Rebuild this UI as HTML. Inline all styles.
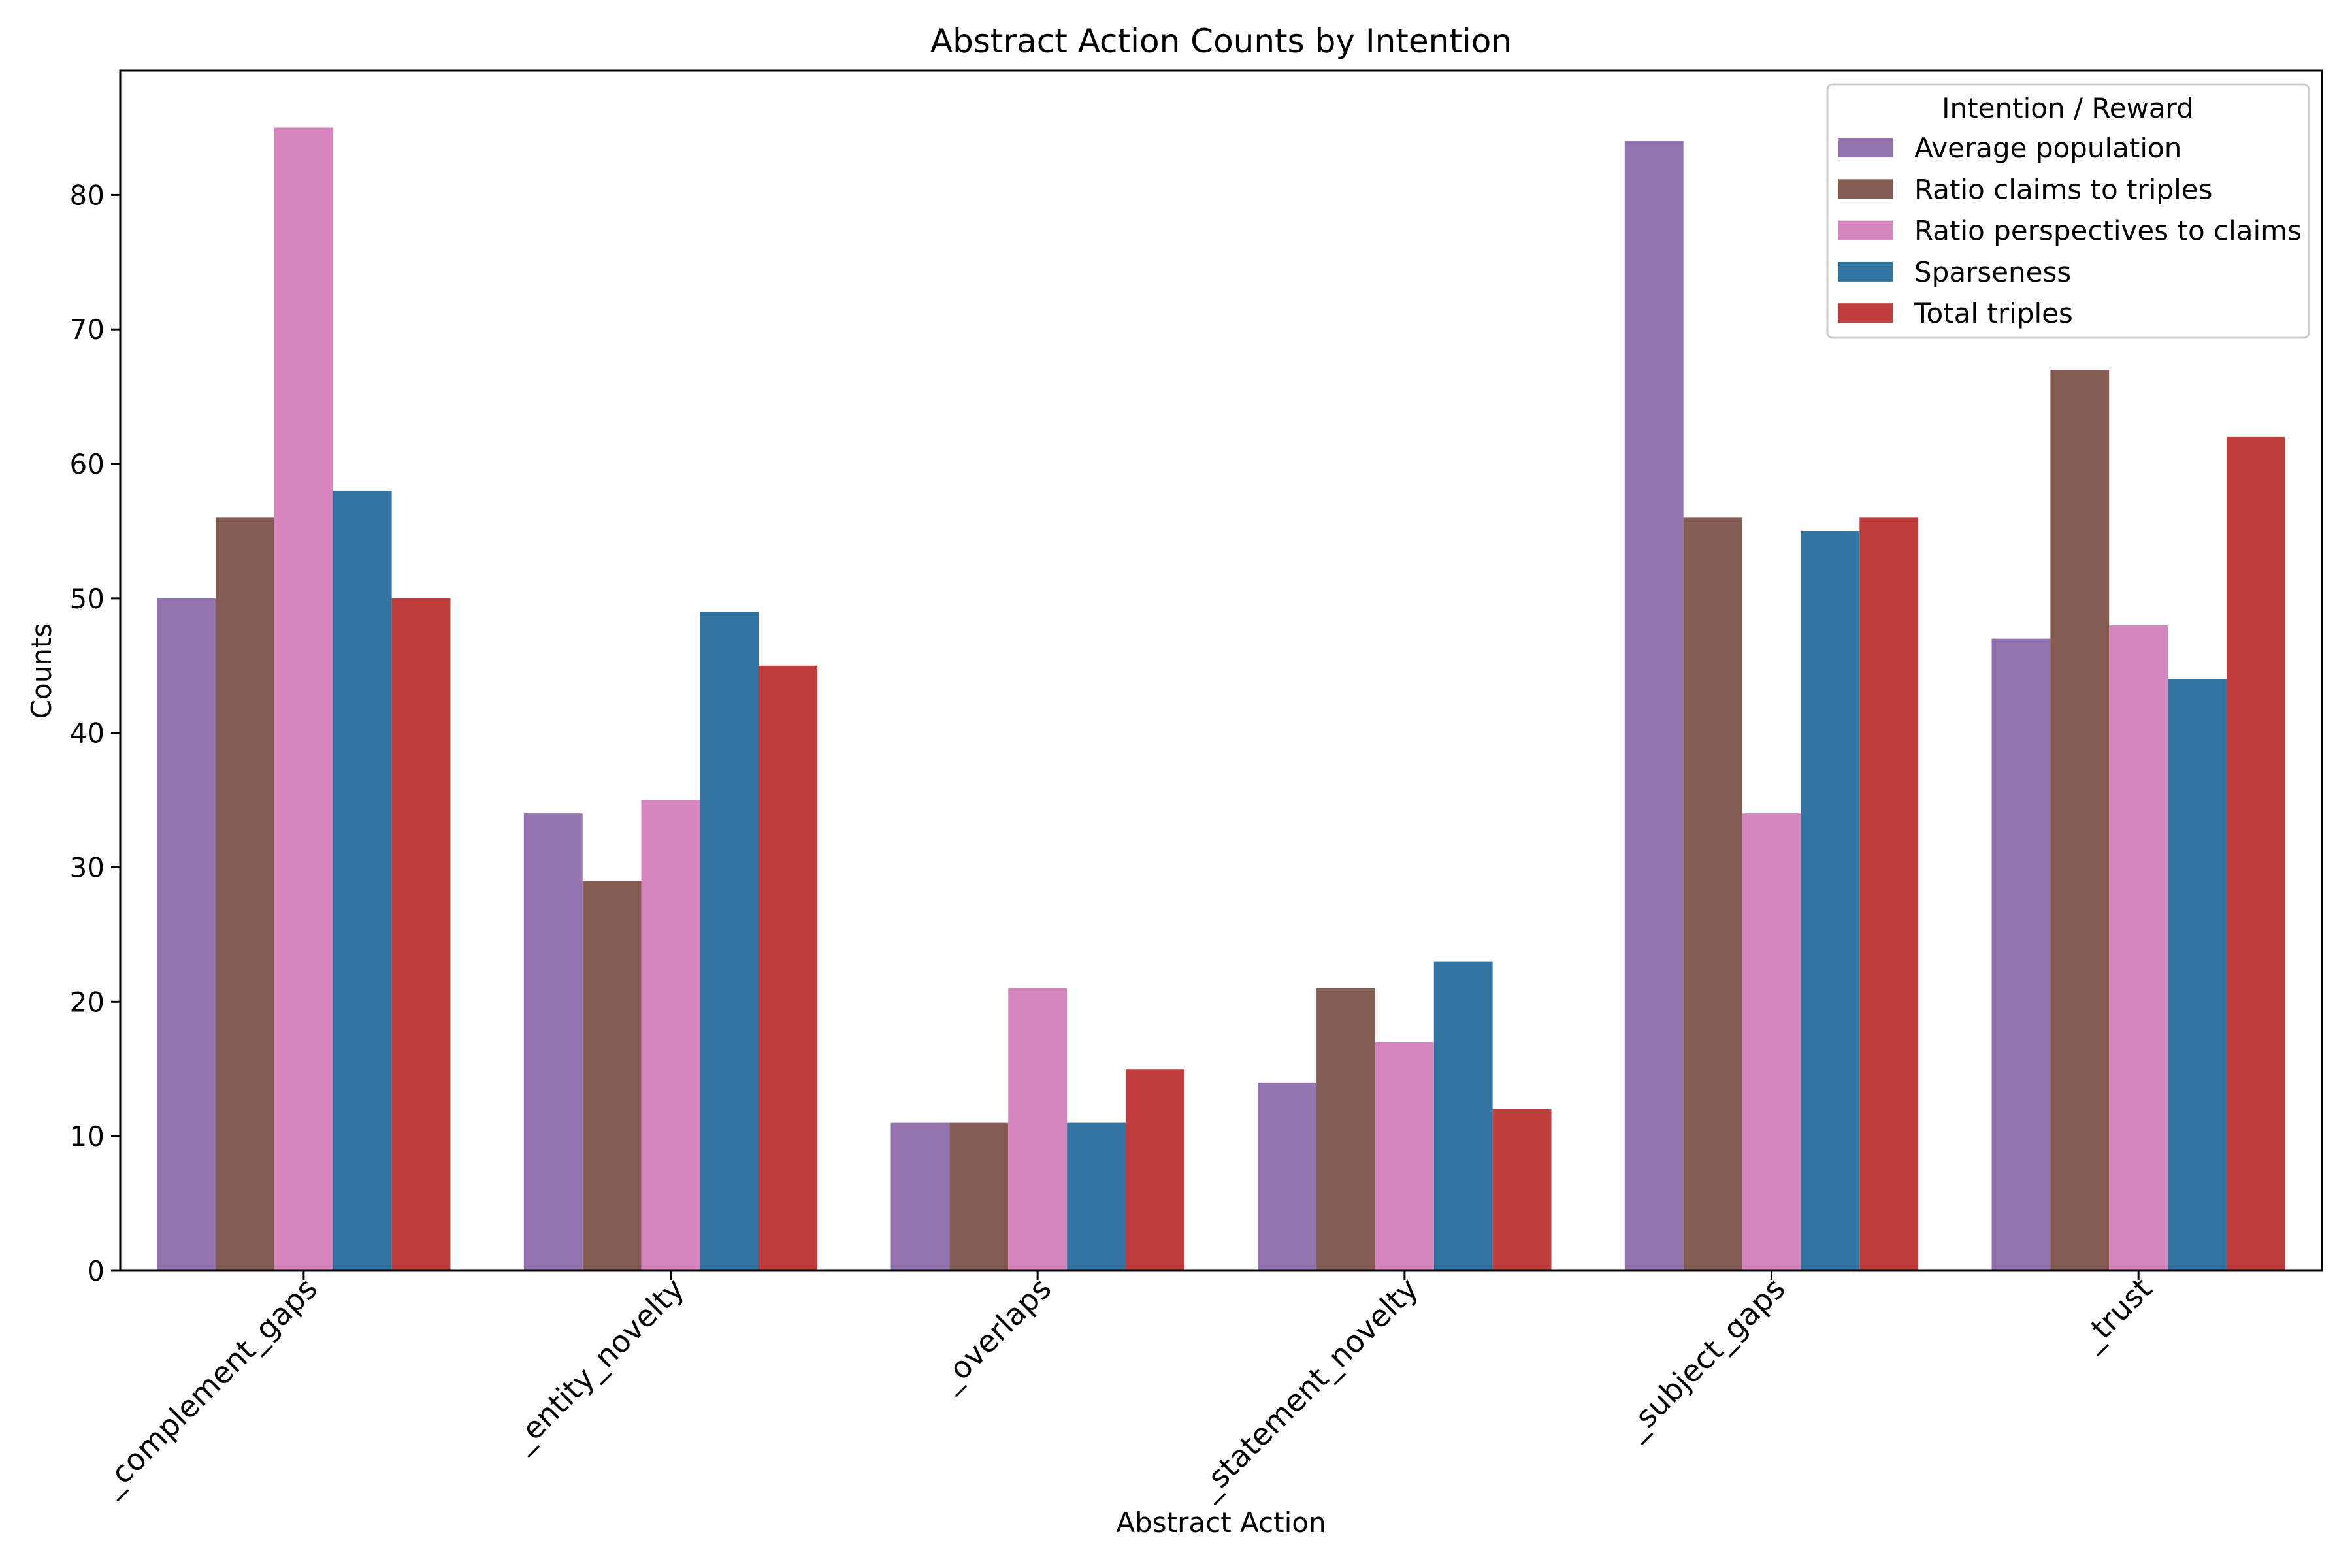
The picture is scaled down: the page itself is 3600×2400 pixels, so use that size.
<!DOCTYPE html>
<html><head><meta charset="utf-8"><style>
html,body{margin:0;padding:0;background:#fff;}
svg{display:block;font-family:"DejaVu Sans","Liberation Sans",sans-serif;}
</style></head><body>
<svg id="chart" width="3600" height="2400" viewBox="0 0 3600 2400" xmlns="http://www.w3.org/2000/svg">
<rect width="3600" height="2400" fill="#fff"/>
<text x="1869" y="80" font-size="50" text-anchor="middle">Abstract Action Counts by Intention</text>
<g id="bars"></g>
<g id="axes"></g>
<text transform="translate(78,1027) rotate(-90)" font-size="42" text-anchor="middle">Counts</text>
<text x="1869" y="2345" font-size="42" text-anchor="middle">Abstract Action</text>
<g id="legend"></g>
</svg>
<script>
const categories = ["_complement_gaps","_entity_novelty","_overlaps","_statement_novelty","_subject_gaps","_trust"];
const seriesNames = ["Average population","Ratio claims to triples","Ratio perspectives to claims","Sparseness","Total triples"];
const avgPopulation = [50,34,11,14,84,47];
const ratioClaims = [56,29,11,21,56,67];
const ratioPerspectives = [85,35,21,17,34,48];
const sparseness = [58,49,11,23,55,44];
const totalTriples = [50,45,15,12,56,62];
const yTicks = [0,10,20,30,40,50,60,70,80];
const colors = ["#9372b0","#845c52","#d684bd","#3274a1","#c03d3e"];
const series = [avgPopulation,ratioClaims,ratioPerspectives,sparseness,totalTriples];

const NS="http://www.w3.org/2000/svg";
const L=184,R=3554,T=108,B=1945;
const yMax=Math.max(...series.flat())*1.05;
const xs=v=>L+(v+0.5)/categories.length*(R-L);
const ys=v=>B-v/yMax*(B-T);
function mk(tag,attrs,parent){const e=document.createElementNS(NS,tag);for(const k in attrs)e.setAttribute(k,attrs[k]);parent.appendChild(e);return e;}
const bars=document.getElementById('bars'),axes=document.getElementById('axes'),leg=document.getElementById('legend');
const bw=0.8/series.length;
series.forEach((s,si)=>{
  s.forEach((v,ci)=>{
    const x0=xs(ci-0.4+si*bw), x1=xs(ci-0.4+(si+1)*bw);
    const r=mk('rect',{x:x0,y:ys(v),width:x1-x0,height:ys(0)-ys(v),fill:colors[si]},bars);
    
    
  });
});
yTicks.forEach(t=>{
  const y=ys(t);
  mk('line',{x1:L-14,x2:L,y1:y,y2:y,stroke:'#000','stroke-width':3},axes);
  const tx=mk('text',{x:L-24,y:y+15,'font-size':42,'text-anchor':'end'},axes);
  tx.textContent=t;
  
  
});
categories.forEach((c,i)=>{
  const x=xs(i);
  mk('line',{x1:x,x2:x,y1:B,y2:B+14,stroke:'#000','stroke-width':3},axes);
  const tx=mk('text',{transform:`translate(${x-1},${B+6}) rotate(-45)`,'font-size':46,'text-anchor':'end',dy:'0.75em'},axes);
  tx.textContent=c;
  
  
});
const frame=mk('rect',{x:L,y:T,width:R-L,height:B-T,fill:'none',stroke:'#000','stroke-width':3},axes);


const lb=mk('rect',{x:2797,y:129,width:737,height:388,rx:8,fill:'#fff','fill-opacity':0.8,stroke:'#cccccc','stroke-width':3},leg);


const lt=mk('text',{x:3165,y:180,'font-size':42,'text-anchor':'middle'},leg);
lt.textContent='Intention / Reward';


seriesNames.forEach((n,i)=>{
  const cy=226+i*63.3;
  const g=mk('g',{},leg);
  
  
  mk('rect',{x:2813,y:cy-15,width:84,height:30,fill:colors[i]},g);
  const t=mk('text',{x:2930,y:cy+15,'font-size':42},g);
  t.textContent=n;
});
</script>
</body></html>
